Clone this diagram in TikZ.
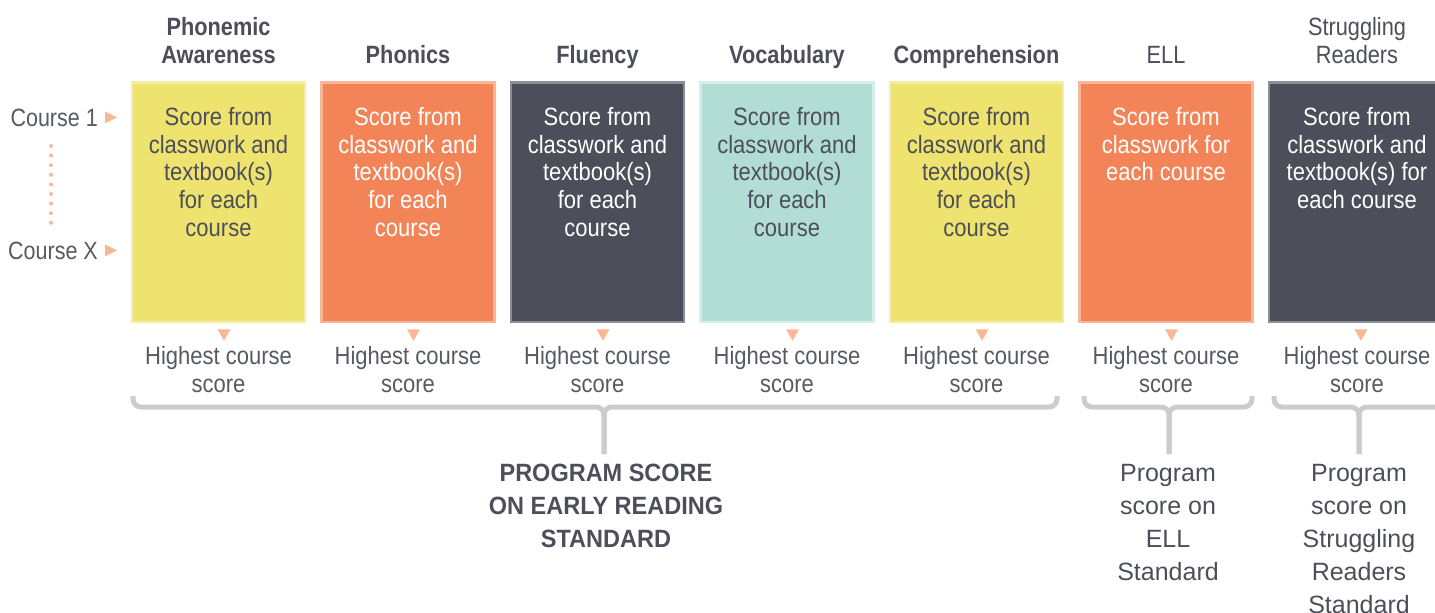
\documentclass[tikz,border=0pt]{standalone}
\usepackage{fontspec}
\setmainfont{Liberation Sans}[FakeStretch=0.88]
\newfontfamily\hdfont{Liberation Sans}[FakeStretch=0.87]
\newfontfamily\widefont{Liberation Sans}
\newfontfamily\capsfont{Liberation Sans}[FakeStretch=0.94]
\newfontfamily\coursefont{Liberation Sans}[FakeStretch=0.86]
\definecolor{yel}{HTML}{EFE36F}\definecolor{yelb}{HTML}{F5EDA0}
\definecolor{ora}{HTML}{F38457}\definecolor{orab}{HTML}{F8B698}
\definecolor{drk}{HTML}{4C4F5A}\definecolor{drkb}{HTML}{8C8E95}
\definecolor{tea}{HTML}{B1DDD4}\definecolor{teab}{HTML}{D4EEE9}
\definecolor{tricol}{HTML}{F9B796}
\definecolor{brc}{HTML}{CBCCD0}
\definecolor{txt}{HTML}{4C4F5A}
\definecolor{txtl}{HTML}{575A63}
\begin{document}
\begin{tikzpicture}[x=1pt,y=-1pt,
  box/.style={draw, line width=2.5pt, minimum width=173pt, minimum height=239.5pt, inner sep=0pt, anchor=north},
  yelbox/.style={box, fill=yel, draw=yelb},
  orabox/.style={box, fill=ora, draw=orab},
  drkbox/.style={box, fill=drk, draw=drkb},
  teabox/.style={box, fill=tea, draw=teab},
  boxtext/.style={anchor=north, align=center, inner sep=0pt, font=\fontsize{25}{27.8}\selectfont},
  header/.style={anchor=south, align=center, inner sep=0pt, text depth=0pt, text=txt, font=\hdfont\fontsize{25}{28}\selectfont},
  hcs/.style={anchor=north, align=center, inner sep=0pt, text=txtl, font=\fontsize{25}{28}\selectfont},
  prog/.style={anchor=north, align=center, inner sep=0pt, text=txt, font=\widefont\fontsize{25}{33}\selectfont},
  course/.style={anchor=base east, inner sep=0pt, text=txtl, font=\coursefont\fontsize{25}{28}\selectfont},
  tri/.style={fill=tricol},
  brace/.style={draw=brc, line width=5pt, rounded corners=8pt},
  dotline/.style={draw=tricol, line width=4pt, line cap=round, dash pattern=on 0pt off 9.6pt}
]
\useasboundingbox (0,0) rectangle (1435,613);
\clip (0,0) rectangle (1435,613);

% headers
\node[header, font=\hdfont\bfseries\fontsize{25}{28}\selectfont] (h1) at (218.5,64) {Phonemic\\Awareness};
\node[header, font=\hdfont\bfseries\fontsize{25}{28}\selectfont] (h2) at (408,64) {Phonics};
\node[header, font=\hdfont\bfseries\fontsize{25}{28}\selectfont] (h3) at (597.5,64) {Fluency};
\node[header, font=\hdfont\bfseries\fontsize{25}{28}\selectfont] (h4) at (787,64) {Vocabulary};
\node[header, font=\hdfont\bfseries\fontsize{25}{28}\selectfont] (h5) at (976.5,64) {Comprehension};
\node[header] (h6) at (1166,64) {ELL};
\node[header] (h7) at (1357,64) {Struggling\\Readers};

% boxes
\node[yelbox] (b1) at (218.5,81.25) {};
\node[orabox] (b2) at (408,81.25) {};
\node[drkbox] (b3) at (597.5,81.25) {};
\node[teabox] (b4) at (787,81.25) {};
\node[yelbox] (b5) at (976.5,81.25) {};
\node[orabox] (b6) at (1166,81.25) {};
\node[drkbox] (b7) at (1355.5,81.25) {};

\node[boxtext, text=txt] (t1) at (218.5,107) {Score from\\classwork and\\textbook(s)\\for each\\course};
\node[boxtext, text=white] (t2) at (408,107) {Score from\\classwork and\\textbook(s)\\for each\\course};
\node[boxtext, text=white] (t3) at (597.5,107) {Score from\\classwork and\\textbook(s)\\for each\\course};
\node[boxtext, text=txt] (t4) at (787,107) {Score from\\classwork and\\textbook(s)\\for each\\course};
\node[boxtext, text=txt] (t5) at (976.5,107) {Score from\\classwork and\\textbook(s)\\for each\\course};
\node[boxtext, text=white] (t6) at (1166,107) {Score from\\classwork for\\each course};
\node[boxtext, text=white] (t7) at (1357,107) {Score from\\classwork and\\textbook(s) for\\each course};

% course labels
\node[course] (c1) at (98,126) {Course 1};
\node[course] (cx) at (98,259) {Course X};
\fill[tri] ([xshift=7pt,yshift=6pt]c1.east) -- ++(12,6) -- ++(-12,6) -- cycle;
\fill[tri] ([xshift=7pt,yshift=6pt]cx.east) -- ++(12,6) -- ++(-12,6) -- cycle;
\coordinate (d1) at (51,146);
\coordinate (d2) at (51,231);
\draw[dotline] (d1) -- (d2);

% triangles below boxes
\foreach \b in {b1,b2,b3,b4,b5,b6,b7}{
  \fill[tri] ([xshift=-1pt,yshift=-6pt]\b.south) -- ++(13,0) -- ++(-6.5,11.5) -- cycle;
}

% highest course score
\node[hcs] (s1) at (218.5,346) {Highest course\\score};
\node[hcs] (s2) at (408,346) {Highest course\\score};
\node[hcs] (s3) at (597.5,346) {Highest course\\score};
\node[hcs] (s4) at (787,346) {Highest course\\score};
\node[hcs] (s5) at (976.5,346) {Highest course\\score};
\node[hcs] (s6) at (1166,346) {Highest course\\score};
\node[hcs] (s7) at (1357,346) {Highest course\\score};

% program scores
\node[prog, font=\capsfont\bfseries\fontsize{25}{33}\selectfont] (p1) at (606,464) {PROGRAM SCORE\\ON EARLY READING\\STANDARD};
\node[prog] (p2) at (1168,464) {Program\\score on\\ELL\\Standard};
\node[prog] (p3) at (1359,464) {Program\\score on\\Struggling\\Readers\\Standard};

% braces
\coordinate (j1) at (604,407);
\coordinate (j2) at (1169,407);
\coordinate (j3) at (1359,407);
\draw[brace] (133,396) -- (133,407) -- (j1) -- (604,454);
\draw[brace] (1057,396) -- (1057,407) -- (j1) -- (604,454);
\draw[brace] (1084,396) -- (1084,407) -- (j2) -- (1169,454);
\draw[brace] (1252,396) -- (1252,407) -- (j2) -- (1169,454);
\draw[brace] (1274,396) -- (1274,407) -- (j3) -- (1359,454);
\draw[brace] (1450,396) -- (1450,407) -- (j3) -- (1359,454);
\end{tikzpicture}
\end{document}
